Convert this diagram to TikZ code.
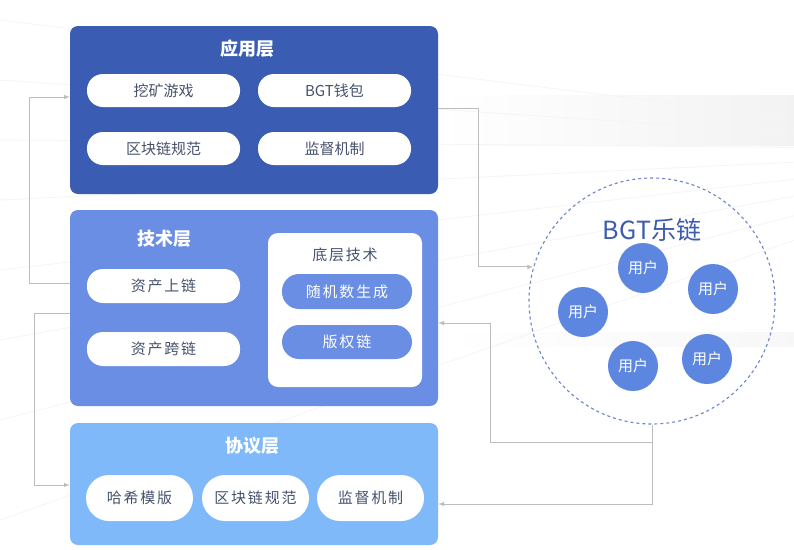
\documentclass[tikz,border=0pt]{standalone}
\usepackage{fontspec}
\setmainfont{Noto Sans CJK SC}
\usepackage{tikz}

\definecolor{appblue}{HTML}{3A5DB3}
\definecolor{techblue}{HTML}{6A8EE3}
\definecolor{protoblue}{HTML}{80B9F9}
\definecolor{userblue}{HTML}{5C86E0}
\definecolor{pilltext}{HTML}{46526C}
\definecolor{ringblue}{HTML}{6C86C8}
\definecolor{titleblue}{HTML}{3E5CAE}
\definecolor{connect}{HTML}{BDBDBD}

\begin{document}
\begin{tikzpicture}[x=1pt,y=-1pt,>=latex]
\tikzstyle{layer}=[rounded corners=8pt,minimum width=368pt,inner sep=0pt]
\tikzstyle{title}=[text=white,font=\fontsize{18}{18}\selectfont\bfseries]
\tikzstyle{pill}=[fill=white,rounded corners=16pt,minimum width=153pt,minimum height=33pt,inner sep=0pt,text=pilltext,font=\fontsize{15}{15}\selectfont]
\tikzstyle{spaced}=[font=\fontsize{15}{15}\selectfont\addfontfeatures{LetterSpace=12}]
\tikzstyle{user}=[circle,fill=userblue,minimum size=50pt,inner sep=0pt,text=white,font=\fontsize{15}{15}\selectfont]
\tikzstyle{conn}=[draw=connect,line width=1pt]
\useasboundingbox (0,0) rectangle (794,549);
\fill[white] (0,0) rectangle (794,549);
% background
\shade[left color=white,right color=black!5] (440,95) rectangle (794,145);
\shade[left color=white,right color=black!3] (440,332) rectangle (794,346);
\foreach \y in {20,80,140,200,270,340,420,520}
  \draw[black!4,line width=0.8pt] (1050,150) -- (0,\y);
% layers
\node[layer,fill=appblue,minimum height=168pt] (app) at (254,110) {};
\node[layer,fill=techblue,minimum height=196pt] (tech) at (254,308) {};
\node[layer,fill=protoblue,minimum height=122pt] (proto) at (254,484) {};
\node[title] (app_t) at (247,49) {应用层};
\node[title] (tech_t) at (164,239) {技术层};
\node[title] (proto_t) at (252,446) {协议层};
% application layer
\node[pill] (game) at (163.5,90.5) {挖矿游戏};
\node[pill] (wallet) at (334.5,90.5) {BGT钱包};
\node[pill] (spec_a) at (163.5,148.5) {区块链规范};
\node[pill] (super_a) at (334.5,148.5) {监督机制};
% technology layer
\node[pill,spaced,minimum height=34pt] (onchain) at (163.5,286) {资产上链};
\node[pill,spaced,minimum height=34pt] (cross) at (163.5,349) {资产跨链};
\node[fill=white,rounded corners=10pt,minimum width=154pt,minimum height=154pt] (base) at (345,310) {};
\node[text=pilltext,spaced] (base_t) at (345,255) {底层技术};
\node[pill,spaced,fill=techblue,text=white,minimum width=130pt,minimum height=35pt,rounded corners=17pt] (random) at (347,291.5) {随机数生成};
\node[pill,spaced,fill=techblue,text=white,minimum width=130pt,minimum height=34pt,rounded corners=17pt] (copyright) at (347,342) {版权链};
% protocol layer
\node[pill,spaced,minimum width=107pt,minimum height=46pt,rounded corners=23pt] (hash) at (139.5,498) {哈希模版};
\node[pill,spaced,minimum width=107pt,minimum height=46pt,rounded corners=23pt] (spec_p) at (255.5,498) {区块链规范};
\node[pill,spaced,minimum width=107pt,minimum height=46pt,rounded corners=23pt] (super_p) at (370.5,498) {监督机制};
% BGT chain
\node[circle,draw=ringblue,dashed,line width=1.1pt,minimum size=246pt] (chain) at (652,301) {};
\node[text=titleblue,font=\fontsize{25}{25}\selectfont] (chain_t) at (652,230) {BGT乐链};
\node[user] (U_1) at (643,268) {用户};
\node[user] (U_2) at (713,289) {用户};
\node[user] (U_3) at (583,312) {用户};
\node[user] (U_4) at (633,366) {用户};
\node[user] (U_5) at (707,359) {用户};
% connectors
\draw[conn,->] ([yshift=25pt]tech.west) -- ++(-40,0) |- ([yshift=13pt]app.west);
\draw[conn,->] ([yshift=-5pt]tech.west) -- ++(-35,0) |- ([yshift=-1pt]proto.west);
\draw[conn,->] ([yshift=2pt]app.east) -- ++(40,0) |- (chain.164);
\draw[conn,->] (chain.south) |- ([yshift=-20pt]proto.east);
\draw[conn,->] ([yshift=-18pt]chain.south) -- ++(-162,0) |- ([yshift=-15pt]tech.east);
\end{tikzpicture}
\end{document}
